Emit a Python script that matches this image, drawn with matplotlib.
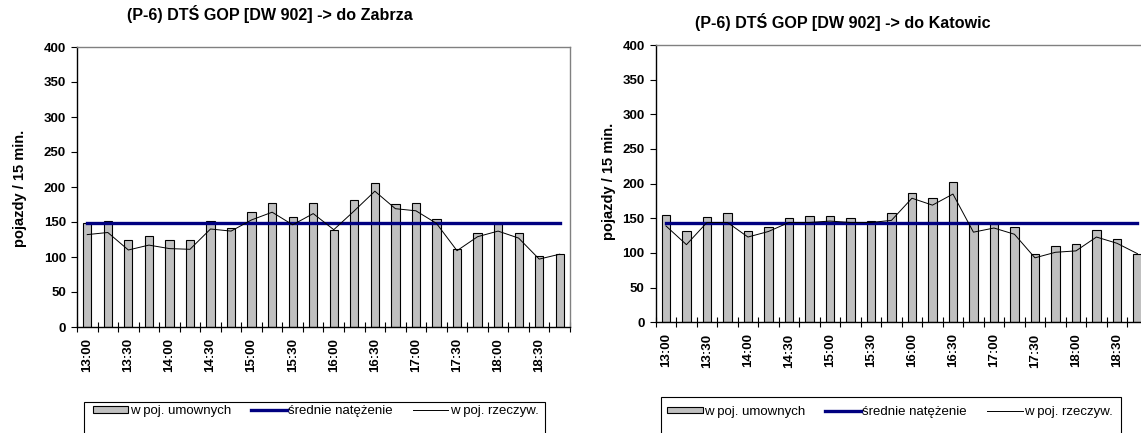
import numpy as np
import matplotlib
matplotlib.use("Agg")
import matplotlib.pyplot as plt
from matplotlib.patches import Patch, Rectangle
from matplotlib.lines import Line2D

plt.rcParams['font.family'] = ['Liberation Sans', 'DejaVu Sans']

# Dane (pojazdy / 15 min.)
godziny = ["13:00", "13:15", "13:30", "13:45", "14:00", "14:15", "14:30", "14:45",
           "15:00", "15:15", "15:30", "15:45", "16:00", "16:15", "16:30", "16:45",
           "17:00", "17:15", "17:30", "17:45", "18:00", "18:15", "18:30", "18:45"]

zabrze_umowne = [148, 152, 124, 130, 124, 125, 152, 142, 165, 177, 157, 177,
                 139, 181, 206, 176, 177, 154, 112, 134, 147, 134, 101, 104]
zabrze_rzeczyw = [132, 135, 110, 117, 112, 111, 140, 137, 153, 164, 146, 162,
                  139, 166, 194, 169, 166, 148, 109, 129, 137, 127, 97, 104]
zabrze_srednie = 148

katowice_umowne = [155, 131, 152, 157, 131, 137, 151, 153, 153, 150, 146, 157,
                   187, 180, 202, 143, 142, 137, 98, 110, 113, 133, 120, 99]
katowice_rzeczyw = [139, 112, 144, 144, 123, 131, 144, 144, 146, 144, 144, 147,
                    179, 169, 185, 130, 136, 127, 93, 101, 103, 123, 114, 99]
katowice_srednie = 143

tytuly = ["(P-6) DTŚ GOP [DW 902] -> do Zabrza", "(P-6) DTŚ GOP [DW 902] -> do Katowic"]
opis_y = "pojazdy / 15 min."
legenda = ["w poj. umownych", "średnie natężenie", "w poj. rzeczyw."]

W, H = 1141, 433
SZARY = '#C0C0C0'
GRANAT = '#000080'


def fx(px):
    return px / W


def fy(py):
    return 1 - py / H


def rysuj(ax, umowne, rzeczyw, srednia):
    x = np.arange(len(godziny))
    ax.bar(x, umowne, width=0.4, color=SZARY, edgecolor='black', linewidth=0.8, zorder=2)
    ax.plot(x, [srednia] * len(x), color=GRANAT, linewidth=2.4, zorder=3)
    ax.plot(x, rzeczyw, color='black', linewidth=0.7, zorder=4)

    ax.set_xlim(-0.5, len(x) - 0.5)
    ax.set_ylim(0, 400)
    ax.set_yticks(range(0, 401, 50))
    for lab in ax.get_yticklabels():
        lab.set_fontweight('bold')
        lab.set_fontsize(9.5)

    # kreski na granicach kategorii, etykiety co druga kategoria
    ax.set_xticks(np.arange(-0.5, len(x), 1.0))
    ax.set_xticklabels([])
    ax.set_xticks(x[::2], minor=True)
    ax.set_xticklabels(godziny[::2], minor=True, rotation=90,
                       fontweight='bold', fontsize=9.5)
    ax.tick_params(axis='x', which='major', direction='inout', length=7, width=0.8)
    ax.tick_params(axis='x', which='minor', length=0, pad=8)
    ax.tick_params(axis='y', direction='out', length=4, width=0.8, pad=4)

    for s in ['left', 'bottom']:
        ax.spines[s].set_color('black')
        ax.spines[s].set_linewidth(1.0)
    for s in ['top', 'right']:
        ax.spines[s].set_color('#808080')
        ax.spines[s].set_linewidth(1.0)


fig = plt.figure(figsize=(W / 100, H / 100), dpi=100)

ax1 = fig.add_axes([fx(77), fy(327), fx(570 - 77), (327 - 47) / H])
ax2 = fig.add_axes([fx(655.7), fy(322.3), fx(492), (322.3 - 45) / H])

rysuj(ax1, zabrze_umowne, zabrze_rzeczyw, zabrze_srednie)
rysuj(ax2, katowice_umowne, katowice_rzeczyw, katowice_srednie)

fig.text(fx(270), fy(14), tytuly[0], ha='center', va='center', fontsize=11.6, fontweight='bold')
fig.text(fx(843), fy(22), tytuly[1], ha='center', va='center', fontsize=11.6, fontweight='bold')
fig.text(fx(20), fy(188), opis_y, ha='center', va='center', rotation=90,
         fontsize=10.5, fontweight='bold')
fig.text(fx(609), fy(181), opis_y, ha='center', va='center', rotation=90,
         fontsize=10.5, fontweight='bold')

uchwyty = [Patch(facecolor=SZARY, edgecolor='black', linewidth=0.8),
           Line2D([], [], color=GRANAT, linewidth=2.4),
           Line2D([], [], color='black', linewidth=0.7)]

for (x0, x1, top, x_lab, y_lab) in [(84, 545, 401.7, 92.7, 411), (660.7, 1121, 396.7, 667, 411.7)]:
    fig.add_artist(Rectangle((fx(x0), fy(440)), fx(x1 - x0), (440 - top) / H,
                             transform=fig.transFigure, fill=False,
                             edgecolor='black', linewidth=0.8))
    fig.legend(uchwyty, legenda, loc='center left', bbox_to_anchor=(fx(x_lab), fy(y_lab)),
               ncol=3, frameon=False, fontsize=9.5, handlelength=2.7, handleheight=0.4,
               handletextpad=0.12, columnspacing=1.5, borderpad=0, borderaxespad=0)

fig.savefig('out.png', dpi=100)
